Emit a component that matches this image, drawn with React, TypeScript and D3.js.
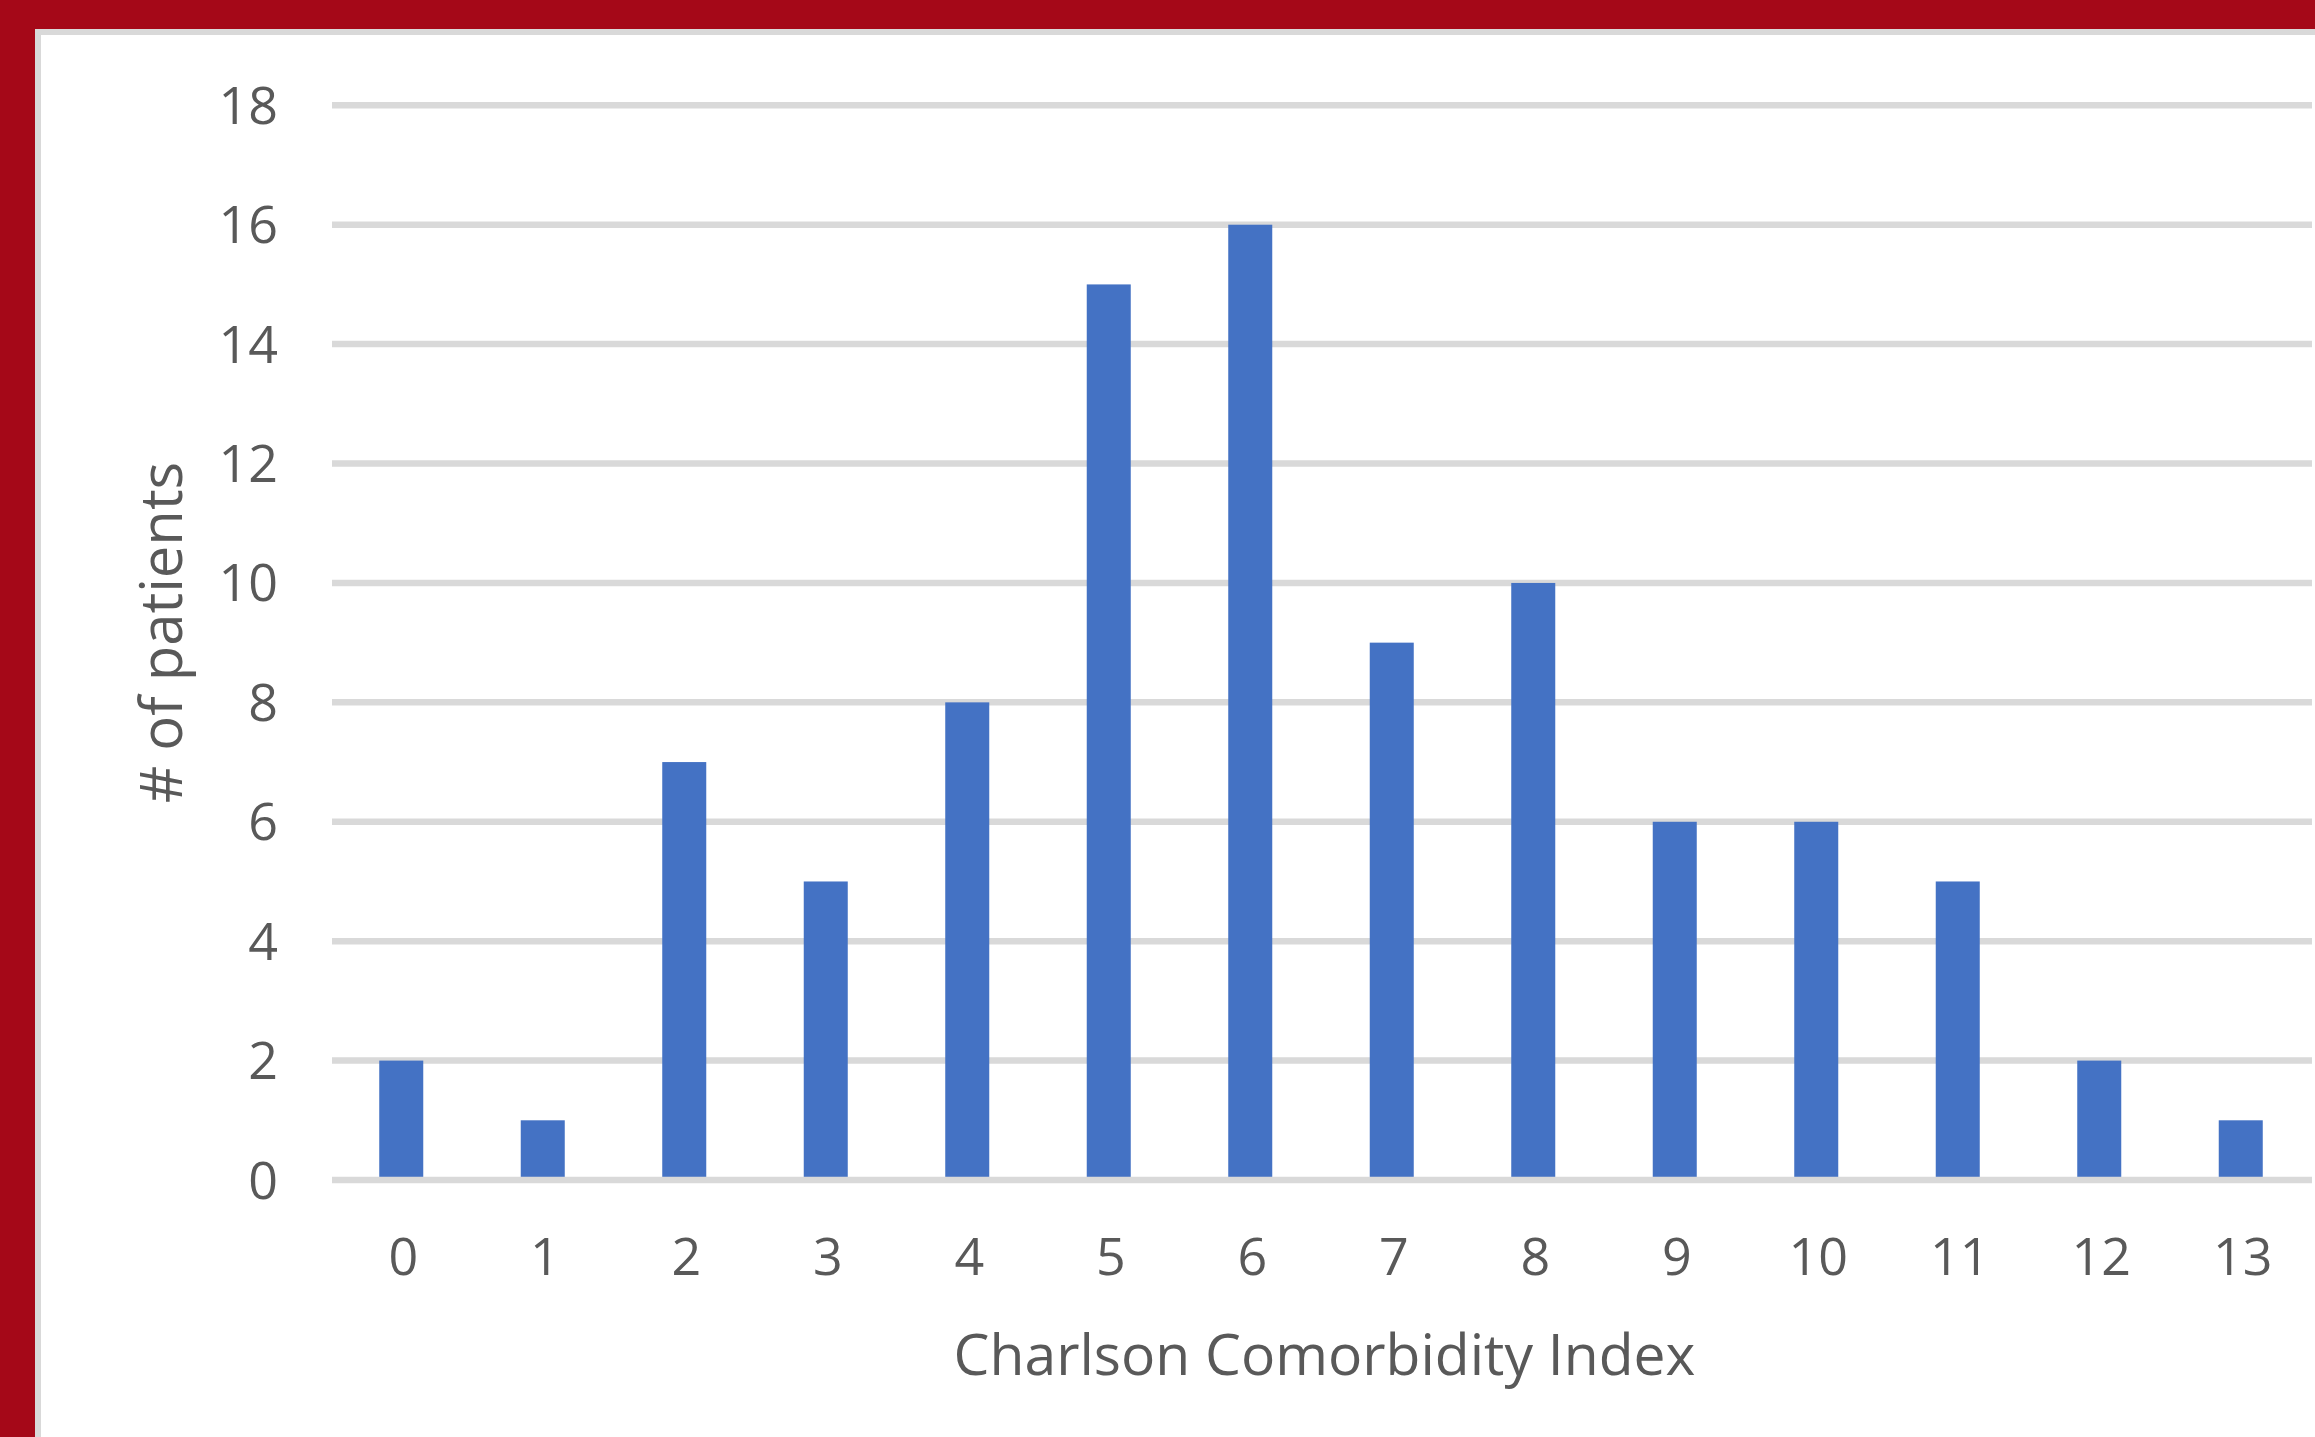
import React from "react";
import * as d3 from "d3";

const categories = ["0", "1", "2", "3", "4", "5", "6", "7", "8", "9", "10", "11", "12", "13"];
const patients = [2, 1, 7, 5, 8, 15, 16, 9, 10, 6, 6, 5, 2, 1];
const yTicks = [0, 2, 4, 6, 8, 10, 12, 14, 16, 18];
const xTitle = "Charlson Comorbidity Index";
const yTitle = "# of patients";

const W = 2315;
const H = 1437;
const FONT = "'Segoe UI', 'Open Sans', 'Noto Sans', sans-serif";
const TEXT = "#595959";

export default function App() {
  const x = d3
    .scaleBand<string>()
    .domain(categories)
    .range([330.5, 2311.5])
    .paddingInner(0.689)
    .paddingOuter(0.3445);
  const y = d3.scaleLinear().domain([0, 18]).range([1180, 105.3]);

  return (
    <svg
      width={W}
      height={H}
      viewBox={`0 0 ${W} ${H}`}
      style={{ position: "absolute", left: 0, top: 0, display: "block" }}
    >
      <rect x={0} y={0} width={W} height={H} fill="#A50818" />
      <rect x={35} y={29} width={W - 35} height={H - 29} fill="#D9D9D9" />
      <rect x={41} y={35} width={W - 41} height={H - 35} fill="#FFFFFF" />

      {yTicks
        .filter((t) => t !== 0)
        .map((t) => (
          <line
            key={"g" + t}
            x1={332}
            x2={2312}
            y1={y(t)}
            y2={y(t)}
            stroke="#D9D9D9"
            strokeWidth={6.5}
          />
        ))}

      {patients.map((v, i) => (
        <rect
          key={"b" + i}
          x={x(categories[i])}
          y={y(v)}
          width={x.bandwidth()}
          height={y(0) - y(v)}
          fill="#4472C4"
        />
      ))}

      <line x1={332} x2={2312} y1={y(0)} y2={y(0)} stroke="#D9D9D9" strokeWidth={6.5} />

      {yTicks.map((t) => (
        <text
          key={"yl" + t}
          x={278}
          y={y(t) + 18.5}
          textAnchor="end"
          fontFamily={FONT}
          fontSize={52}
          fill={TEXT}
        >
          {t}
        </text>
      ))}

      {categories.map((c) => (
        <text
          key={"xl" + c}
          x={(x(c) as number) + x.bandwidth() / 2 + 2}
          y={1275}
          textAnchor="middle"
          fontFamily={FONT}
          fontSize={52}
          fill={TEXT}
        >
          {c}
        </text>
      ))}

      <text
        x={1324.5}
        y={1375}
        textAnchor="middle"
        fontFamily={FONT}
        fontSize={57}
        fill={TEXT}
      >
        {xTitle}
      </text>

      <text
        transform={`translate(182, 632.5) rotate(-90)`}
        textAnchor="middle"
        fontFamily={FONT}
        fontSize={58}
        fill={TEXT}
      >
        {yTitle}
      </text>
    </svg>
  );
}
